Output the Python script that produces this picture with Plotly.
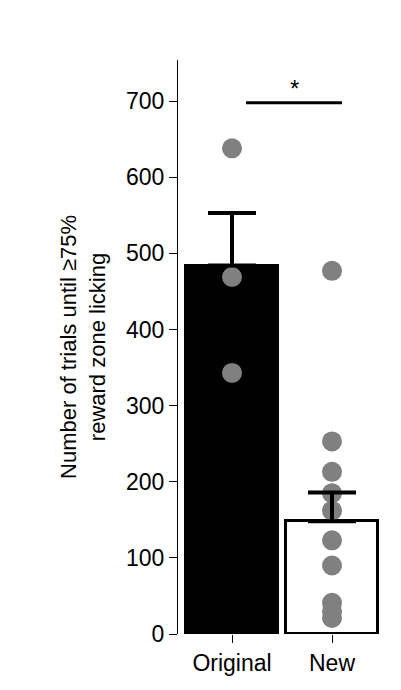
import plotly.graph_objects as go

# data
grupos = ["Original", "New"]
medias = [484, 148]
erros = [69, 38]
pontos_original = [638, 469, 343]
pontos_new = [477, 253, 213, 185, 162, 123, 90, 41, 30, 21]

fig = go.Figure()
fig.add_trace(go.Bar(
    x=[0, 1], y=medias,
    marker=dict(color=["black", "white"], line=dict(color="black", width=3)),
    width=0.92, showlegend=False,
))
fig.add_trace(go.Scatter(
    x=[0] * len(pontos_original) + [1] * len(pontos_new),
    y=pontos_original + pontos_new,
    mode="markers", marker=dict(color="#808080", size=20),
    showlegend=False,
))
# barras de erro por cima dos pontos
fig.add_trace(go.Scatter(
    x=[0, 1], y=medias, mode="markers", marker=dict(size=1, color="rgba(0,0,0,0)"),
    error_y=dict(type="data", array=erros, arrayminus=[0, 0], color="black", thickness=4, width=24),
    showlegend=False,
))
# significancia
fig.add_shape(type="line", x0=0.14, x1=1.1, y0=698, y1=698, line=dict(color="black", width=3))
fig.add_annotation(x=0.62, y=698, text="*", showarrow=False, yshift=14,
                   font=dict(size=24, color="black"))

fig.update_layout(
    width=401, height=690,
    margin=dict(l=170, r=23, t=52, b=64),
    plot_bgcolor="white", paper_bgcolor="white",
    font=dict(family="Liberation Sans, Arial", size=23, color="black"),
    bargap=0,
)
fig.update_xaxes(range=[-0.54, 1.54], tickvals=[0, 1], ticktext=grupos,
                 ticks="outside", ticklen=8, tickcolor="black", showline=False,
                 showgrid=False, zeroline=False, tickfont=dict(size=23), automargin=False)
fig.update_yaxes(range=[0, 754], tickvals=list(range(0, 701, 100)),
                 ticks="outside", ticklen=8, tickcolor="black", showline=True,
                 linecolor="black", linewidth=1, showgrid=False, zeroline=False,
                 tickfont=dict(size=23), automargin=False,
                 title=dict(text="Number of trials until ≥75%<br>reward zone licking",
                            font=dict(size=22), standoff=14))

fig.write_html("out.html")
